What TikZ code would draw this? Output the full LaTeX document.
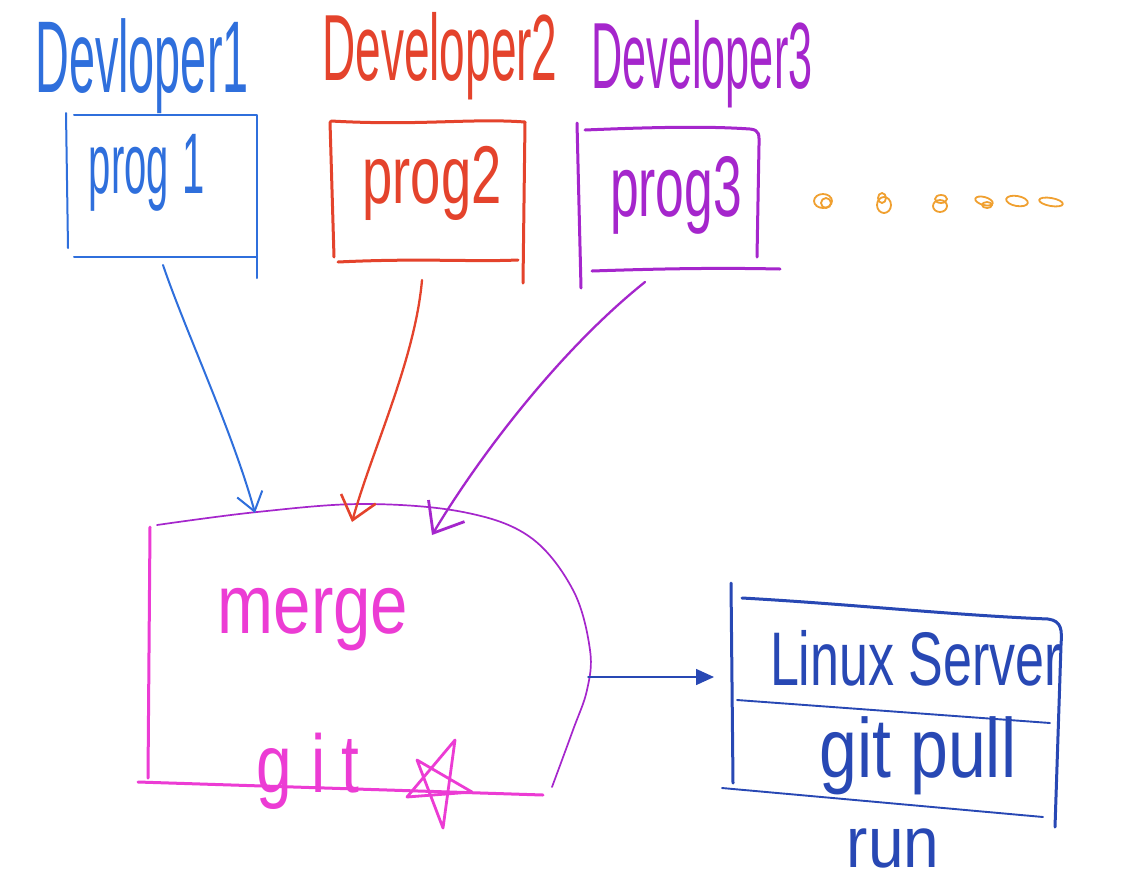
\documentclass[tikz,border=0pt]{standalone}
\usepackage{fontspec}
\usepackage{graphicx}
\setmainfont{Liberation Sans}
\usetikzlibrary{arrows.meta}
\definecolor{cblue}{HTML}{2F6FDC}
\definecolor{cred}{HTML}{E4432C}
\definecolor{cpurple}{HTML}{A526CC}
\definecolor{corange}{HTML}{F0A030}
\definecolor{cmag}{HTML}{EC3CD4}
\definecolor{cnavy}{HTML}{2848B4}
\newcommand{\hwtext}[4]{\scalebox{#2}[#3]{\fontsize{#1}{#1}\selectfont #4}}
\begin{document}
\begin{tikzpicture}[x=1pt,y=-1pt,line cap=round,line join=round,
  hw/.style={anchor=base,inner sep=0pt,outer sep=0pt},
  boxline/.style={line width=3pt},
  thinbox/.style={line width=2pt},
  fineline/.style={line width=1.7pt},
  dot/.style={corange,line width=1.8pt},
  devarrow/.style={line width=2.3pt}]
\useasboundingbox[fill=white] (0,0) rectangle (1124,887);

% developer labels
\node[hw,text=cblue]   (d1) at (142,92) {\hwtext{40}{1.17}{2.55}{Devloper1}};
\node[hw,text=cred]    (d2) at (440,80) {\hwtext{40}{1.15}{2.35}{Developer2}};
\node[hw,text=cpurple] (d3) at (702,88) {\hwtext{40}{1.08}{2.35}{Developer3}};

% program boxes
\draw[cblue,thinbox] (66,113) -- (68,248);
\draw[cblue,thinbox] (74,115) -- (257,115) -- (257,278);
\draw[cblue,thinbox] (74,257) -- (257,257);
\node[hw,text=cblue] (p1) at (147,193) {\hwtext{40}{1.0}{2.15}{prog\kern14pt\relax 1}};

\draw[cred,boxline] (330,122) -- (334,257);
\draw[cred,boxline] (331,121) .. controls (420,126) and (470,118) .. (525,122) -- (523,283);
\draw[cred,boxline] (338,262) .. controls (420,258) and (470,262) .. (518,260);
\node[hw,text=cred] (p2) at (432,203) {\hwtext{40}{1.36}{2.05}{prog2}};

\draw[cpurple,boxline] (577,123) -- (581,288);
\draw[cpurple,boxline] (585,130) .. controls (680,126) and (720,127) .. (750,129) .. controls (760,130) and (759,135) .. (759,145) -- (757,257);
\draw[cpurple,boxline] (592,271) .. controls (680,268) and (730,268) .. (780,269);
\node[hw,text=cpurple] (p3) at (676,216) {\hwtext{40}{1.29}{2.15}{prog3}};

% orange dots
\draw[dot] (823,201) ellipse [x radius=9, y radius=7];
\draw[dot] (826,203) ellipse [x radius=5, y radius=5];
\draw[dot] (884,205) ellipse [x radius=7, y radius=8];
\draw[dot] (882,198) ellipse [x radius=4, y radius=5];
\draw[dot] (940,206) ellipse [x radius=7, y radius=6];
\draw[dot] (941,199) ellipse [x radius=6, y radius=4];
\draw[dot,rotate around={-15:(984,201)}] (984,201) ellipse [x radius=9, y radius=4];
\draw[dot] (987,205) ellipse [x radius=5, y radius=3];
\draw[dot,rotate around={-10:(1017,201)}] (1017,201) ellipse [x radius=11, y radius=5];
\draw[dot,rotate around={-10:(1051,202)}] (1051,202) ellipse [x radius=12, y radius=4];

% merge shape
\draw[cpurple,fineline] plot[smooth,tension=0.6] coordinates {(157,525) (257,512) (363,504) (463,512) (530,537) (573,590) (590,650) (587,690) (573,730) (552,787)};
\draw[cmag,line width=3pt] (150,527) -- (148,778);
\draw[cmag,line width=3pt] (138,782) -- (543,795);
\node[hw,text=cmag] (mg) at (313,633) {\hwtext{40}{1.68}{2.1}{merge}};
\node[hw,text=cmag] (gt) at (308,792) {\hwtext{40}{1.6}{2.05}{g\kern12pt i\kern10pt t}};
\draw[cmag,line width=2.8pt] (443,828) -- (455,740) -- (407,797) -- (472,792) -- (417,760) -- cycle;

% connector endpoints
\coordinate (s1) at (163,265);
\coordinate (s2) at (422,280);
\coordinate (s3) at (645,282);
\coordinate (t1) at (255,513);
\coordinate (t2) at (352,522);
\coordinate (t3) at (432,535);
\coordinate (mr) at (588,677);
\coordinate (lv) at (714,677);

\draw[cblue,line width=2pt,-{Straight Barb[length=18pt,width=26pt,line width=2pt]}] (s1) .. controls (185,330) and (232,430) .. (t1);
\draw[cred,devarrow,-{Straight Barb[length=22pt,width=36pt,line width=2.6pt]}] (s2) .. controls (415,360) and (372,450) .. (t2);
\draw[cpurple,devarrow,-{Straight Barb[length=26pt,width=42pt,line width=2.8pt]}] (s3) .. controls (560,350) and (480,455) .. (t3);

% linux server
\draw[cnavy,boxline] (731,583) -- (733,783);
\draw[cnavy,boxline] (742,598) .. controls (850,604) and (950,615) .. (1048,619) .. controls (1062,621) and (1062,630) .. (1061,645) -- (1055,827);
\draw[cnavy,line width=1.9pt] (737,700) -- (1050,723);
\draw[cnavy,line width=1.9pt] (722,788) -- (1043,817);
\node[hw,text=cnavy] (ls) at (916,685) {\hwtext{40}{1.3}{1.9}{Linux Server}};
\node[hw,text=cnavy] (gp) at (918,777) {\hwtext{40}{1.7}{2.1}{git pull}};
\node[hw,text=cnavy] (rn) at (893,867) {\hwtext{40}{1.6}{1.8}{run}};

\draw[cnavy,line width=1.5pt,-{Triangle[length=18pt,width=16pt]}] (mr) -- (lv);
\end{tikzpicture}
\end{document}
